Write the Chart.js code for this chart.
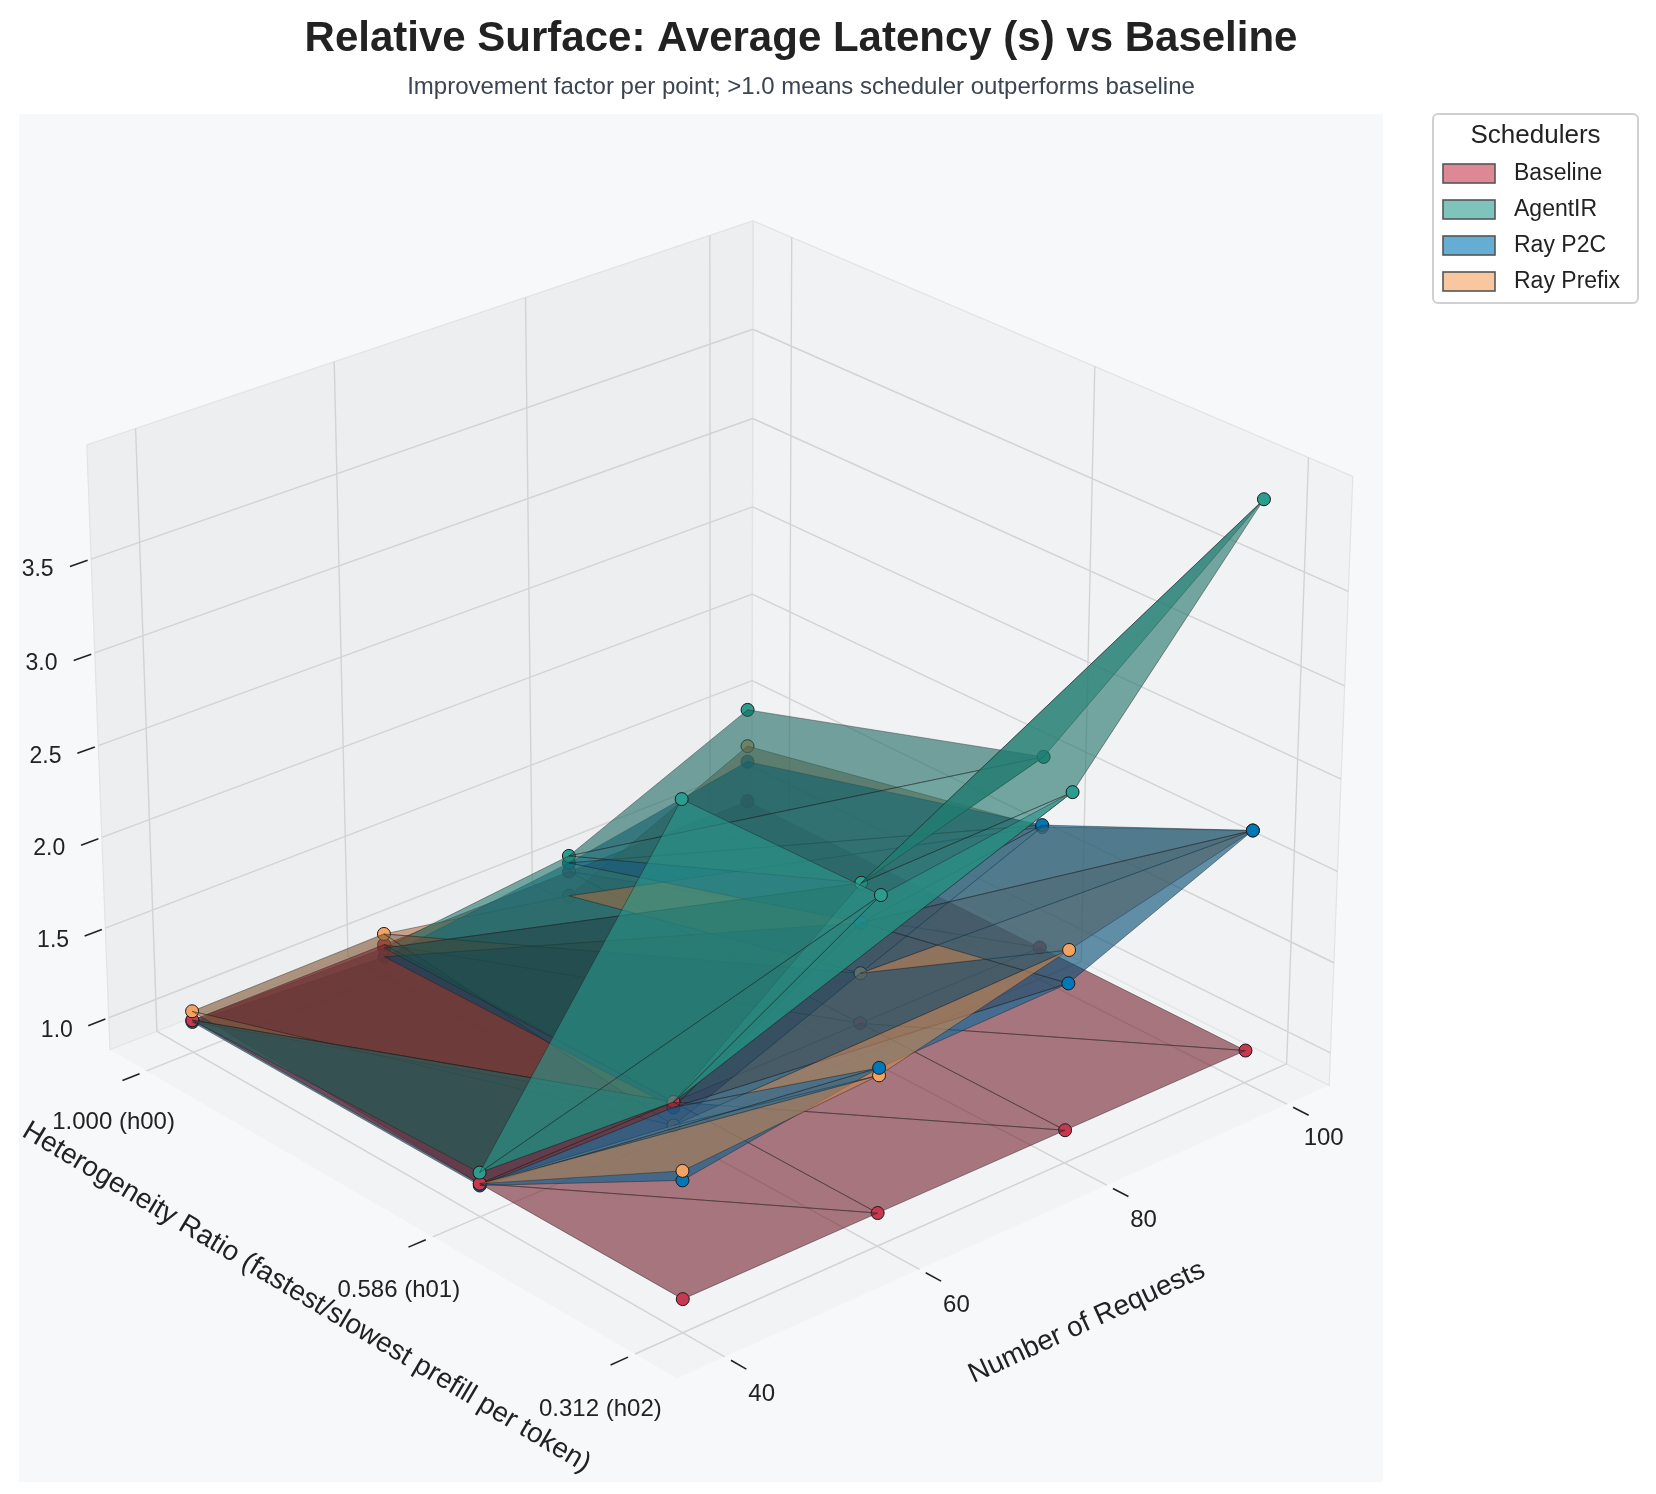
<!DOCTYPE html>
<html><head><meta charset="utf-8">
<script src="https://cdn.jsdelivr.net/npm/chart.js@4.4.1/dist/chart.umd.min.js"></script>
<style>html,body{margin:0;padding:0;background:#fff}#wrap{width:1656px;height:1494px;position:relative}</style>
</head><body><div id="wrap"><canvas id="c"></canvas></div>
<script>
// ---------- data ----------
const hetValues = [1.000, 0.586, 0.312];
const hetLabels = ['1.000 (h00)', '0.586 (h01)', '0.312 (h02)'];
const requests = [40, 60, 80, 100];
const zTicks = [1.0, 1.5, 2.0, 2.5, 3.0, 3.5];
const schedulerNames = ['Baseline', 'AgentIR', 'Ray P2C', 'Ray Prefix'];
// rows: h00, h01, h02 ; columns: 40, 60, 80, 100 requests
const baseline  = [[1.00, 1.00, 1.00, 1.00], [1.00, 1.00, 1.00, 1.00], [1.00, 1.00, 1.00, 1.00]];
const agentIR   = [[1.00, 0.98, 1.09, 1.53], [1.06, 1.00, 1.78, 2.07], [3.59, 2.69, 2.82, 3.97]];
const rayP2C    = [[0.99, 0.93, 1.05, 1.23], [0.99, 0.97, 1.56, 1.69], [1.63, 1.78, 1.80, 2.21]];
const rayPrefix = [[1.05, 1.06, 0.86, 1.32], [1.00, 0.87, 1.28, 1.68], [1.68, 1.74, 1.98, 2.21]];
const seriesValues = [baseline, agentIR, rayP2C, rayPrefix];
const seriesColors = [[200, 56, 79], [42, 157, 143], [0, 119, 182], [244, 162, 97]];

// ---------- 3D view ----------
const AZ = 48.5 * Math.PI / 180, EL = 26.2 * Math.PI / 180, DIST = 9, SC = 888, CX = 716, CY = 770;
const PAD = 0.08, ZMIN = 0.82, ZMAX = 4.1, ZH = 0.769;
const HLO = 0.312 - 0.688 * PAD, HHI = 1.0 + 0.688 * PAD;
const RLO = 40 - 60 * PAD, RHI = 100 + 60 * PAD;
const wx = h => (HHI - h) / (HHI - HLO) - 0.5;
const wy = r => (r - RLO) / (RHI - RLO) - 0.5;
const wz = v => (v - ZMIN) / (ZMAX - ZMIN) * ZH - ZH / 2;
function proj(X, Y, Z) {
  const ca = Math.cos(AZ), sa = Math.sin(AZ), ce = Math.cos(EL), se = Math.sin(EL);
  const sx = X * ca + Y * sa, dv = X * sa - Y * ca;
  const su = Z * ce - dv * se, dc = dv * ce + Z * se;
  const f = DIST / (DIST - dc);
  return { x: CX + SC * f * sx, y: CY - SC * f * su, d: dc };
}
const LIGHT = (() => { const v = [-1, 0.15, 0.45]; const n = Math.hypot(...v); return v.map(t => t / n); })();

// ---------- build datasets ----------
const items = [];
seriesValues.forEach((vals, s) => {
  const col = seriesColors[s];
  for (let i = 0; i < hetValues.length - 1; i++) {
    for (let j = 0; j < requests.length - 1; j++) {
      const tris = [[[i, j], [i + 1, j], [i + 1, j + 1]], [[i, j], [i + 1, j + 1], [i, j + 1]]];
      tris.forEach(t => {
        const W = t.map(([a, b]) => [wx(hetValues[a]), wy(requests[b]), wz(vals[a][b])]);
        const u = [0, 1, 2].map(k => W[1][k] - W[0][k]), v = [0, 1, 2].map(k => W[2][k] - W[0][k]);
        let n = [u[1] * v[2] - u[2] * v[1], u[2] * v[0] - u[0] * v[2], u[0] * v[1] - u[1] * v[0]];
        if (n[2] < 0) n = n.map(q => -q);
        const nl = Math.hypot(...n); n = n.map(q => q / nl);
        const k = Math.min(1, 0.3 + 0.7 * Math.max(0, n[0] * LIGHT[0] + n[1] * LIGHT[1] + n[2] * LIGHT[2]));
        const P = W.map(w => proj(...w));
        const depth = (P[0].d + P[1].d + P[2].d) / 3;
        items.push({
          type: 'line', tri: true,
          face: `rgba(${Math.round(col[0] * k)},${Math.round(col[1] * k)},${Math.round(col[2] * k)},0.6)`,
          data: [P[0], P[1], P[2], P[0]].map(p => ({ x: p.x, y: p.y })),
          borderColor: 'rgba(30,30,30,0.55)', borderWidth: 0.8, pointRadius: 0, fill: false,
          tension: 0, clip: false, order: -depth
        });
      });
    }
  }
  for (let i = 0; i < hetValues.length; i++) for (let j = 0; j < requests.length; j++) {
    const p = proj(wx(hetValues[i]), wy(requests[j]), wz(vals[i][j]));
    items.push({
      type: 'scatter', data: [{ x: p.x, y: p.y }], pointRadius: 6.5, pointHoverRadius: 6.5,
      backgroundColor: `rgb(${col.join(',')})`, borderColor: '#1b1b1b', borderWidth: 1,
      clip: false, order: -(p.d + 0.02)
    });
  }
});

// ---------- plugins ----------
const FONT = '"Liberation Sans", Arial, sans-serif';
function P3(chart, X, Y, Z) {
  const p = proj(X, Y, Z);
  return { x: chart.scales.x.getPixelForValue(p.x), y: chart.scales.y.getPixelForValue(p.y) };
}
function poly(ctx, pts) { ctx.beginPath(); pts.forEach((p, i) => i ? ctx.lineTo(p.x, p.y) : ctx.moveTo(p.x, p.y)); ctx.closePath(); }
function seg(ctx, a, b) { ctx.beginPath(); ctx.moveTo(a.x, a.y); ctx.lineTo(b.x, b.y); ctx.stroke(); }

const scenePlugin = {
  id: 'scene',
  beforeDatasetsDraw(chart) {
    const ctx = chart.ctx, B = -ZH / 2, T = ZH / 2;
    ctx.save();
    ctx.fillStyle = '#f7f8fa'; ctx.fillRect(19, 114, 1364, 1368);
    const q = (X, Y, Z) => P3(chart, X, Y, Z);
    ctx.fillStyle = '#f2f3f5'; poly(ctx, [q(-.5, -.5, B), q(.5, -.5, B), q(.5, .5, B), q(-.5, .5, B)]); ctx.fill();
    ctx.fillStyle = '#edeef0'; poly(ctx, [q(-.5, -.5, B), q(-.5, .5, B), q(-.5, .5, T), q(-.5, -.5, T)]); ctx.fill();
    ctx.fillStyle = '#f1f2f4'; poly(ctx, [q(-.5, .5, B), q(.5, .5, B), q(.5, .5, T), q(-.5, .5, T)]); ctx.fill();
    ctx.strokeStyle = '#e2e3e5'; ctx.lineWidth = 1.2;
    poly(ctx, [q(-.5, -.5, B), q(-.5, .5, B), q(-.5, .5, T), q(-.5, -.5, T)]); ctx.stroke();
    poly(ctx, [q(-.5, .5, B), q(.5, .5, B), q(.5, .5, T), q(-.5, .5, T)]); ctx.stroke();
    ctx.strokeStyle = '#d3d3d3'; ctx.lineWidth = 1.4;
    zTicks.forEach(z => { const Z = wz(z); seg(ctx, q(-.5, -.5, Z), q(-.5, .5, Z)); seg(ctx, q(-.5, .5, Z), q(.5, .5, Z)); });
    requests.forEach(r => { const Y = wy(r); seg(ctx, q(-.5, Y, B), q(-.5, Y, T)); seg(ctx, q(-.5, Y, B), q(.5, Y, B)); });
    hetValues.forEach(h => { const X = wx(h); seg(ctx, q(X, .5, B), q(X, .5, T)); seg(ctx, q(X, -.5, B), q(X, .5, B)); });
    ctx.strokeStyle = '#222'; ctx.lineWidth = 1.6; ctx.fillStyle = '#222';
    ctx.font = `23px ${FONT}`; ctx.textBaseline = 'middle';
    zTicks.forEach(z => {
      const Z = wz(z); seg(ctx, q(-.5, -.505, Z), q(-.5, -.53, Z));
      const l = q(-.5, -.575, Z + 0.01); ctx.textAlign = 'center'; ctx.fillText(z.toFixed(1), l.x, l.y);
    });
    ctx.font = `24px ${FONT}`;
    hetValues.forEach((h, i) => {
      const X = wx(h); seg(ctx, q(X, -.51, B), q(X, -.535, B));
      const l = q(X, -.55, B - 0.05); ctx.textAlign = 'center'; ctx.fillText(hetLabels[i], l.x, l.y);
    });
    requests.forEach(r => {
      const Y = wy(r); seg(ctx, q(.51, Y, B), q(.535, Y, B));
      const l = q(.56, Y, B - 0.02); ctx.textAlign = 'center'; ctx.fillText(String(r), l.x, l.y);
    });
    ctx.font = `28px ${FONT}`; ctx.fillStyle = '#222';
    const a0 = q(-.5, -.7, B), a1 = q(.5, -.7, B), am = q(0.1, -.69, B);
    ctx.save(); ctx.translate(am.x, am.y); ctx.rotate(Math.atan2(a1.y - a0.y, a1.x - a0.x));
    ctx.textAlign = 'center'; ctx.fillText('Heterogeneity Ratio (fastest/slowest prefill per token)', 0, 0); ctx.restore();
    const b0 = q(.67, -.5, B), b1 = q(.67, .5, B), bm = q(.67, -0.05, B - 0.03);
    ctx.save(); ctx.translate(bm.x, bm.y); ctx.rotate(Math.atan2(b1.y - b0.y, b1.x - b0.x));
    ctx.textAlign = 'center'; ctx.fillText('Number of Requests', 0, 0); ctx.restore();
    ctx.restore();
  },
  beforeDatasetDraw(chart, args) {
    const ds = chart.data.datasets[args.index];
    if (!ds.tri) return;
    const ctx = chart.ctx, pts = args.meta.data;
    ctx.save(); ctx.fillStyle = ds.face;
    ctx.beginPath(); pts.forEach((p, i) => i ? ctx.lineTo(p.x, p.y) : ctx.moveTo(p.x, p.y)); ctx.closePath(); ctx.fill();
    ctx.restore();
  },
  afterDraw(chart) {
    const ctx = chart.ctx; ctx.save();
    ctx.fillStyle = '#222'; ctx.textAlign = 'center'; ctx.textBaseline = 'middle';
    ctx.font = `bold 42px ${FONT}`; ctx.fillText('Relative Surface: Average Latency (s) vs Baseline', 801, 39);
    ctx.fillStyle = '#3b4452'; ctx.font = `24px ${FONT}`;
    ctx.fillText('Improvement factor per point; >1.0 means scheduler outperforms baseline', 801, 87);
    const lx = 1433, ly = 114, lw = 205, lh = 189;
    ctx.fillStyle = '#fff'; ctx.strokeStyle = '#d0d0d0'; ctx.lineWidth = 2;
    ctx.beginPath(); ctx.roundRect(lx, ly, lw, lh, 5); ctx.fill(); ctx.stroke();
    ctx.fillStyle = '#222'; ctx.font = `26px ${FONT}`; ctx.fillText('Schedulers', lx + lw / 2, ly + 22);
    ctx.textAlign = 'left'; ctx.font = `23px ${FONT}`;
    schedulerNames.forEach((nm, i) => {
      const y = ly + 59 + i * 36, c = seriesColors[i];
      ctx.fillStyle = `rgba(${c.join(',')},0.6)`; ctx.fillRect(lx + 10, y - 9, 52, 19);
      ctx.strokeStyle = '#555'; ctx.lineWidth = 1.6; ctx.strokeRect(lx + 10, y - 9, 52, 19);
      ctx.fillStyle = '#222'; ctx.fillText(nm, lx + 81, y + 1);
    });
    ctx.restore();
  }
};

new Chart(document.getElementById('c'), {
  data: { datasets: items },
  options: {
    responsive: true, maintainAspectRatio: false, animation: false, events: [],
    layout: { padding: 0 },
    scales: {
      x: { type: 'linear', min: 0, max: 1656, display: false },
      y: { type: 'linear', min: 0, max: 1494, reverse: true, display: false }
    },
    plugins: { legend: { display: false }, tooltip: { enabled: false }, title: { display: false } }
  },
  plugins: [scenePlugin]
});
</script></body></html>
